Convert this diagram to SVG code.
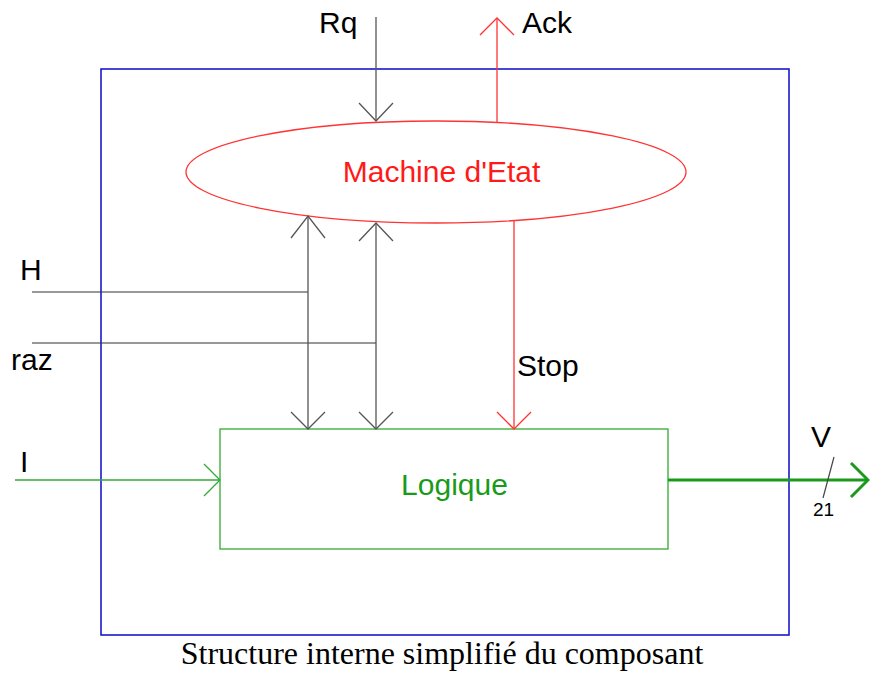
<svg xmlns="http://www.w3.org/2000/svg" width="870" height="675" viewBox="0 0 870 675">
  <style>
    .lbl { font-family: "Liberation Sans", Arial, sans-serif; font-size: 30px; fill: #000; }
    .blk { stroke: #555; stroke-width: 1.3; fill: none; }
    .red { stroke: #ff3333; stroke-width: 1.3; fill: none; }
    .grn { stroke: #33aa33; stroke-width: 1.3; fill: none; }
  </style>
  <rect width="870" height="675" fill="#fff"/>

  <!-- component boundary -->
  <g id="component">
    <rect x="101" y="69" width="688" height="566" fill="none" stroke="#1a1acc" stroke-width="1.6"/>
  </g>

  <!-- state machine -->
  <g id="machine">
    <ellipse cx="436" cy="172" rx="250" ry="51" class="red"/>
    <text x="441.5" y="182" text-anchor="middle" class="lbl" style="fill:#ff1a1a">Machine d'Etat</text>
  </g>

  <!-- logic block -->
  <g id="logique">
    <rect x="220" y="429" width="448" height="120" class="grn"/>
    <text x="454.5" y="495" text-anchor="middle" class="lbl" style="fill:#1a9a1a">Logique</text>
  </g>

  <g id="connectors">
    <!-- Rq input -->
    <line x1="376" y1="17" x2="376" y2="121" class="blk"/>
    <polyline points="359,103 376,121 393,103" class="blk"/>
    <text x="319" y="33" class="lbl">Rq</text>

    <!-- Ack output -->
    <line x1="497" y1="122" x2="497" y2="18" class="red"/>
    <polyline points="480,35 497,18 514,35" class="red"/>
    <text x="522" y="33" class="lbl">Ack</text>

    <!-- H clock -->
    <line x1="32" y1="292" x2="308" y2="292" stroke="#333" stroke-width="1.2"/>
    <text x="20" y="280" class="lbl">H</text>

    <!-- raz reset -->
    <line x1="32" y1="343" x2="376" y2="343" stroke="#333" stroke-width="1.2"/>
    <text x="11" y="370" class="lbl">raz</text>

    <!-- bidirectional links machine / logique -->
    <line x1="308" y1="216" x2="308" y2="429" class="blk"/>
    <polyline points="291,238 308,216 325,238" class="blk"/>
    <polyline points="291,412 308,429 325,412" class="blk"/>

    <line x1="376" y1="223" x2="376" y2="429" class="blk"/>
    <polyline points="359,241 376,223 393,241" class="blk"/>
    <polyline points="359,412 376,429 393,412" class="blk"/>

    <!-- Stop -->
    <line x1="514" y1="221" x2="514" y2="429" class="red"/>
    <polyline points="497,412 514,429 531,412" class="red"/>
    <text x="517" y="376" class="lbl">Stop</text>

    <!-- I input -->
    <line x1="15" y1="480" x2="220" y2="480" class="grn"/>
    <polyline points="204,464 220,480 204,496" class="grn"/>
    <text x="20" y="472" class="lbl">I</text>

    <!-- V output bus -->
    <line x1="668" y1="480" x2="868" y2="480" stroke="#1a9a1a" stroke-width="3"/>
    <polyline points="851,463 868,480 851,497" stroke="#1a9a1a" stroke-width="3" fill="none"/>
    <line x1="834" y1="457" x2="823" y2="498" stroke="#444" stroke-width="1.2"/>
    <text x="811" y="447" class="lbl">V</text>
    <text x="813" y="516" class="lbl" style="font-size:19px">21</text>
  </g>

  <text x="442" y="664" text-anchor="middle" font-family="'Liberation Serif', 'Times New Roman', serif" font-size="32" fill="#000">Structure interne simplifié du composant</text>
</svg>
